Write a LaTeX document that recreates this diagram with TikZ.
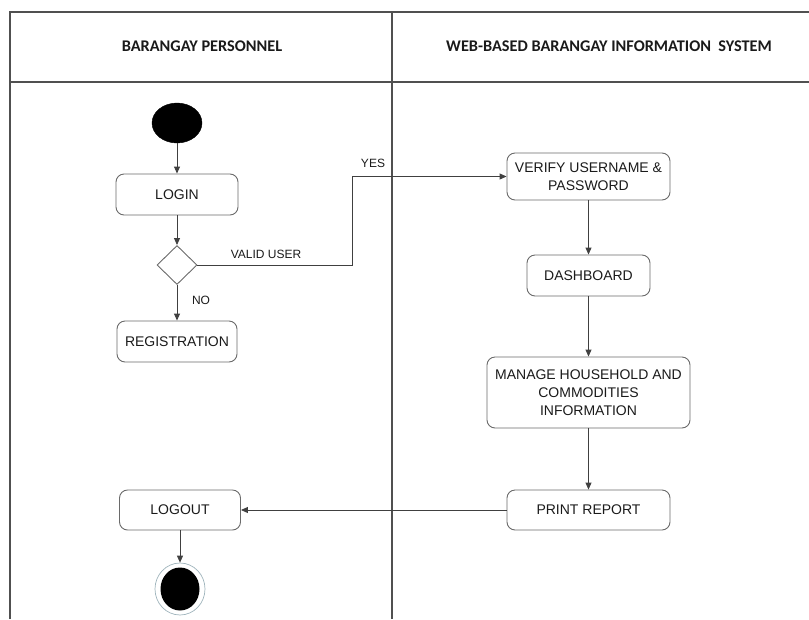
\documentclass[tikz,border=0pt]{standalone}
\usepackage{fontspec}
\setmainfont{Liberation Sans}
\newfontfamily\headfont{Carlito}
\usetikzlibrary{arrows.meta,shapes.geometric}
\definecolor{lane}{HTML}{505050}
\definecolor{edge}{HTML}{404040}
\definecolor{boxline}{HTML}{6A6A6A}
\definecolor{txt}{HTML}{1A1A1A}
\definecolor{ring}{HTML}{9FB4BC}
\tikzset{
  act/.style={draw=boxline, line width=0.9pt, rounded corners=8pt, align=center,
    inner sep=0pt, text=txt, font=\fontsize{14}{18}\selectfont},
  flow/.style={draw=edge, line width=0.9pt, -{Triangle[length=7pt,width=6pt]}},
  lbl/.style={text=txt, font=\fontsize{12}{14}\selectfont, inner sep=0pt},
  head/.style={text=txt, font=\headfont\bfseries\fontsize{16.3}{18}\selectfont, inner sep=0pt},
  lanel/.style={draw=lane, line width=1.3pt}
}
\begin{document}
\begin{tikzpicture}[x=1pt,y=-1pt]
\useasboundingbox (0,0) rectangle (809,619);
% swimlanes
\draw[lanel] (10,619) -- (10,12) -- (809,12);
\draw[lanel, line width=2pt] (10,82) -- (809,82);
\draw[lanel] (392,12) -- (392,619);
\node[head] (h1) at (202,46) {BARANGAY PERSONNEL};
\node[head] (h2) at (609,46) {WEB-BASED BARANGAY INFORMATION\ \ SYSTEM};
% nodes
\node[ellipse, fill=black, draw=black, minimum width=50pt, minimum height=40pt, inner sep=0pt] (start) at (177,123) {};
\node[act, minimum width=122pt, minimum height=41pt] (login) at (177,194.5) {LOGIN};
\node[diamond, draw=boxline, line width=0.9pt, minimum width=40pt, minimum height=39pt, inner sep=0pt] (dec) at (177,265) {};
\node[act, minimum width=120pt, minimum height=41pt] (reg) at (177,341.5) {REGISTRATION};
\node[act, minimum width=163pt, minimum height=47pt] (verify) at (588.5,176.5) {VERIFY USERNAME \&\\PASSWORD};
\node[act, minimum width=123pt, minimum height=41pt] (dash) at (588.5,275.5) {DASHBOARD};
\node[act, minimum width=203pt, minimum height=71pt] (manage) at (588.5,392.5) {MANAGE HOUSEHOLD AND\\COMMODITIES\\INFORMATION};
\node[act, minimum width=163pt, minimum height=40pt] (print) at (588.5,510) {PRINT REPORT};
\node[act, minimum width=121pt, minimum height=40pt] (logout) at (180,510) {LOGOUT};
\node[ellipse, draw=ring, line width=0.7pt, fill=white, minimum width=50pt, minimum height=52pt, inner sep=0pt] (end) at (180,589) {};
\node[ellipse, fill=black, minimum width=39pt, minimum height=43pt, inner sep=0pt] (endin) at (180,589) {};
% connectors
\coordinate (k) at (352,176.5);
\draw[flow] (start) -- (login);
\draw[flow] (login) -- (dec);
\draw[flow] (dec) -- (reg);
\draw[flow] (dec.east) -| (k) -- (verify.west);
\draw[flow] (verify) -- (dash);
\draw[flow] (dash) -- (manage);
\draw[flow] (manage) -- (print);
\draw[flow] (print.west) -- (logout.east);
\draw[flow] (logout) -- (end);
% labels
\node[lbl] (lvalid) at (266,254) {VALID USER};
\node[lbl] (lyes) at (373,163) {YES};
\node[lbl] (lno) at (201,300) {NO};
\end{tikzpicture}
\end{document}
